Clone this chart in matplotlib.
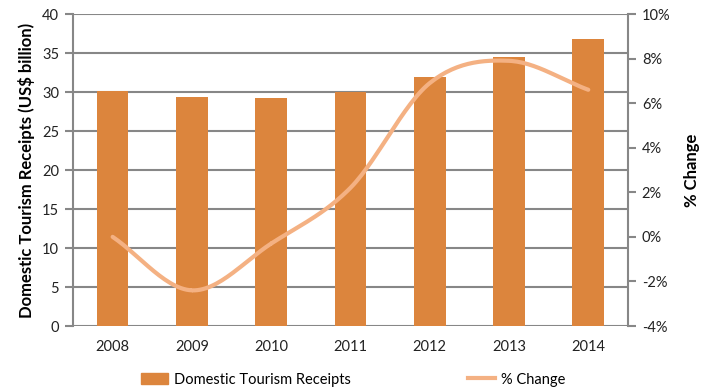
import numpy as np
import matplotlib

matplotlib.use("Agg")
import matplotlib.pyplot as plt
from matplotlib.lines import Line2D
from matplotlib.patches import Patch

years = ["2008", "2009", "2010", "2011", "2012", "2013", "2014"]
receipts = [30.1, 29.4, 29.25, 29.95, 31.95, 34.45, 36.75]
pct_change = [0.0, -2.4, -0.3, 2.2, 6.9, 7.9, 6.6]

BAR = "#dc853d"
LINE = "#f4b183"
GRID = "#878787"

plt.rcParams["font.family"] = ["Lato", "DejaVu Sans"]


def smooth(x, y, steps=30):
    """Catmull-Rom curve through the points (like Excel smoothed lines)."""
    x = np.asarray(x, float)
    y = np.asarray(y, float)
    px = np.concatenate([[2 * x[0] - x[1]], x, [2 * x[-1] - x[-2]]])
    py = np.concatenate([[2 * y[0] - y[1]], y, [2 * y[-1] - y[-2]]])
    xs, ys = [], []
    t = np.linspace(0, 1, steps)
    for i in range(1, len(px) - 2):
        for p, out in ((px, xs), (py, ys)):
            p0, p1, p2, p3 = p[i - 1], p[i], p[i + 1], p[i + 2]
            out.extend(0.5 * (2 * p1 + (-p0 + p2) * t
                              + (2 * p0 - 5 * p1 + 4 * p2 - p3) * t ** 2
                              + (-p0 + 3 * p1 - 3 * p2 + p3) * t ** 3))
    return np.array(xs), np.array(ys)


fig = plt.figure(figsize=(7.06, 3.90), dpi=100)
ax = fig.add_axes([0.1034, 0.1641, 0.786, 0.80])
x = np.arange(len(years))

ax.bar(x, receipts, width=0.4, color=BAR, zorder=2)
ax.set_ylim(0, 40)
ax.set_yticks(range(0, 41, 5))
ax.set_xlim(-0.5, len(years) - 0.5)
ax.set_xticks(x)
ax.set_xticklabels(years)
ax.grid(axis="y", color=GRID, lw=1.5, zorder=0)
ax.set_axisbelow(True)
for s in ["top", "right", "bottom"]:
    ax.spines[s].set_visible(False)
ax.spines["left"].set_color(GRID)
ax.spines["left"].set_linewidth(1.5)
ax.tick_params(axis="y", direction="out", length=6, color=GRID, width=1.5,
               labelsize=10.5, labelcolor="#222222", pad=4)
ax.tick_params(axis="x", length=0, labelsize=10.5, labelcolor="#222222", pad=10)
ax.set_ylabel("Domestic Tourism Receipts (US$ billion)", fontsize=12,
              fontweight="bold", labelpad=5)

ax2 = ax.twinx()
sx, sy = smooth(x, pct_change)
ax2.plot(sx, sy, color=LINE, lw=3, solid_capstyle="round", zorder=3)
ax2.set_ylim(-4, 10)
ax2.set_yticks(range(-4, 11, 2))
ax2.set_yticklabels([f"{v}%" for v in range(-4, 11, 2)])
for s in ["top", "left", "bottom"]:
    ax2.spines[s].set_visible(False)
ax2.spines["right"].set_color(GRID)
ax2.spines["right"].set_linewidth(1.5)
ax2.tick_params(axis="y", direction="out", length=6, color=GRID, width=1.5,
                labelsize=10.5, labelcolor="#222222", pad=4)
ax2.set_ylabel("% Change", fontsize=12, fontweight="bold", labelpad=10)

handles = [Patch(color=BAR), Line2D([], [], color=LINE, lw=3)]
fig.legend(handles, ["Domestic Tourism Receipts", "% Change"],
           loc="lower center", bbox_to_anchor=(0.5, -0.025), ncol=2,
           frameon=False, fontsize=10.5, columnspacing=8, handlelength=1.9,
           handletextpad=0.4, handleheight=0.8)

fig.savefig("out.png", dpi=100)
